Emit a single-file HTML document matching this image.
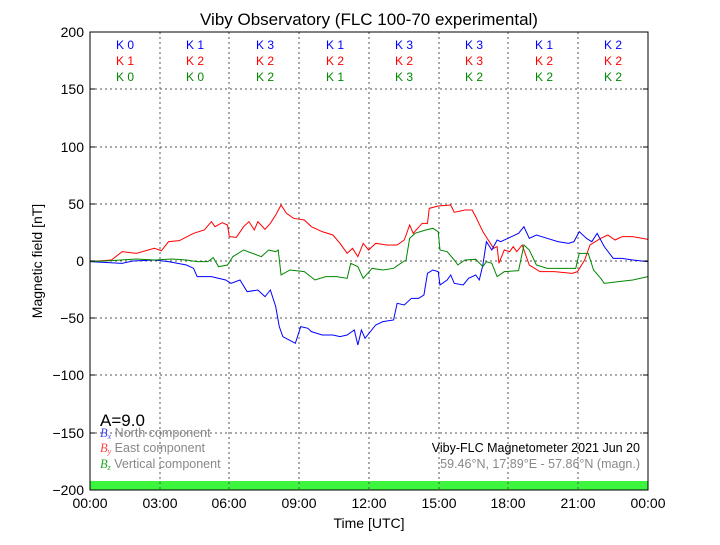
<!DOCTYPE html>
<html><head><meta charset="utf-8"><style>
body{margin:0;background:#fff}
text{font-family:"Liberation Sans",sans-serif}
</style></head><body>
<svg width="720" height="540" xmlns="http://www.w3.org/2000/svg">
<rect width="720" height="540" fill="#fff"/>
<rect x="90" y="481" width="558" height="9" fill="#3ef53e"/>
<g stroke="#555" stroke-width="1" stroke-dasharray="2,3">
<line x1="160" y1="32" x2="160" y2="490"/><line x1="229" y1="32" x2="229" y2="490"/><line x1="299" y1="32" x2="299" y2="490"/><line x1="369" y1="32" x2="369" y2="490"/><line x1="439" y1="32" x2="439" y2="490"/><line x1="508" y1="32" x2="508" y2="490"/><line x1="578" y1="32" x2="578" y2="490"/>
<line x1="90" y1="89" x2="648" y2="89"/><line x1="90" y1="147" x2="648" y2="147"/><line x1="90" y1="204" x2="648" y2="204"/><line x1="90" y1="261" x2="648" y2="261"/><line x1="90" y1="318" x2="648" y2="318"/><line x1="90" y1="375" x2="648" y2="375"/><line x1="90" y1="433" x2="648" y2="433"/>
</g>
<g transform="translate(90,180) scale(0.35714,0.3333)" fill="none">
<polyline vector-effect="non-scaling-stroke" stroke-width="1" stroke="#f00" points="0,245 60,240 90,215 130,220 180,205 200,212 220,185 250,182 290,160 320,150 340,125 350,140 370,128 385,135 390,170 410,172 430,140 445,125 460,150 470,125 490,148 505,130 520,105 535,75 550,100 570,115 600,120 620,140 650,155 680,165 700,190 720,220 735,205 750,230 765,190 780,210 800,190 830,195 860,195 880,180 895,135 905,160 930,130 945,130 950,85 975,78 1010,75 1020,97 1050,90 1070,90 1080,110 1100,155 1130,205 1140,200 1145,250 1160,210 1175,215 1185,200 1195,215 1210,195 1230,255 1260,275 1300,275 1350,280 1365,275 1385,240 1400,195 1430,175 1450,165 1470,180 1490,170 1520,170 1562,178"/>
<polyline vector-effect="non-scaling-stroke" stroke-width="1" stroke="#00f" points="0,245 90,250 120,243 180,240 220,245 270,255 290,265 300,290 340,290 380,300 395,310 420,300 440,335 470,330 490,350 505,330 520,380 530,440 540,470 575,490 590,440 610,445 620,455 650,465 680,465 700,470 720,465 740,450 750,495 760,450 770,475 800,435 820,425 850,420 860,370 880,375 900,355 920,355 935,345 945,280 960,270 975,275 980,315 1000,300 1010,285 1020,310 1045,315 1060,295 1080,285 1090,300 1100,255 1110,185 1125,210 1140,180 1150,185 1170,175 1200,160 1215,140 1230,175 1250,165 1280,175 1310,185 1340,190 1355,185 1370,155 1390,175 1405,185 1420,160 1440,200 1465,235 1490,235 1520,240 1562,245"/>
<polyline vector-effect="non-scaling-stroke" stroke-width="1" stroke="#080" points="0,245 60,242 130,237 180,240 230,237 270,240 300,245 330,245 345,233 360,260 385,255 400,230 430,210 460,222 480,230 500,210 520,215 527,210 535,285 560,270 600,275 630,300 660,290 690,290 720,295 730,250 750,260 765,295 790,265 820,270 850,265 870,250 885,240 895,175 910,160 940,150 960,145 975,155 980,210 1000,215 1020,240 1030,255 1050,240 1080,238 1100,260 1110,245 1125,250 1140,290 1160,275 1200,272 1215,195 1230,210 1250,255 1280,265 1320,265 1360,265 1370,220 1395,220 1410,270 1430,295 1440,310 1480,305 1520,300 1562,290"/>
</g>
<rect x="90" y="32" width="558" height="458" fill="none" stroke="#000" stroke-width="1"/>
<g stroke="#000"><line x1="90" y1="89" x2="95" y2="89"/><line x1="90" y1="147" x2="95" y2="147"/><line x1="90" y1="204" x2="95" y2="204"/><line x1="90" y1="261" x2="95" y2="261"/><line x1="90" y1="318" x2="95" y2="318"/><line x1="90" y1="375" x2="95" y2="375"/><line x1="90" y1="433" x2="95" y2="433"/>
<line x1="648" y1="89" x2="643" y2="89"/><line x1="648" y1="147" x2="643" y2="147"/><line x1="648" y1="204" x2="643" y2="204"/><line x1="648" y1="261" x2="643" y2="261"/><line x1="648" y1="318" x2="643" y2="318"/><line x1="648" y1="375" x2="643" y2="375"/><line x1="648" y1="433" x2="643" y2="433"/></g>
<text x="369" y="25" font-size="17" text-anchor="middle">Viby Observatory (FLC 100-70 experimental)</text>
<g font-size="14" text-anchor="end">
<text x="84" y="37">200</text><text x="84" y="94">150</text><text x="84" y="152">100</text><text x="84" y="209">50</text><text x="84" y="266">0</text><text x="84" y="323">−50</text><text x="84" y="380">−100</text><text x="84" y="438">−150</text><text x="84" y="495">−200</text></g>
<g font-size="14" text-anchor="middle">
<text x="90" y="508">00:00</text><text x="160" y="508">03:00</text><text x="229" y="508">06:00</text><text x="299" y="508">09:00</text><text x="369" y="508">12:00</text><text x="439" y="508">15:00</text><text x="508" y="508">18:00</text><text x="578" y="508">21:00</text><text x="648" y="508">00:00</text>
<text x="369" y="528">Time [UTC]</text></g>
<text transform="translate(42,261) rotate(-90)" font-size="14" text-anchor="middle">Magnetic field [nT]</text>
<g font-size="12" text-anchor="middle">
<g fill="#00f"><text x="125" y="49">K 0</text><text x="195" y="49">K 1</text><text x="265" y="49">K 3</text><text x="335" y="49">K 1</text><text x="404" y="49">K 3</text><text x="474" y="49">K 3</text><text x="544" y="49">K 1</text><text x="613" y="49">K 2</text></g>
<g fill="#f00"><text x="125" y="65">K 1</text><text x="195" y="65">K 2</text><text x="265" y="65">K 2</text><text x="335" y="65">K 2</text><text x="404" y="65">K 2</text><text x="474" y="65">K 3</text><text x="544" y="65">K 2</text><text x="613" y="65">K 2</text></g>
<g fill="#080"><text x="125" y="81">K 0</text><text x="195" y="81">K 0</text><text x="265" y="81">K 2</text><text x="335" y="81">K 1</text><text x="404" y="81">K 3</text><text x="474" y="81">K 2</text><text x="544" y="81">K 2</text><text x="613" y="81">K 2</text></g></g>
<text x="100" y="426" font-size="17">A=9.0</text>
<g font-size="12.5" fill="#888">
<text x="100" y="437"><tspan fill="#44f" font-family="Liberation Serif" font-style="italic">B<tspan font-size="8" dy="2">x</tspan></tspan><tspan dy="-2"> North component</tspan></text>
<text x="100" y="452"><tspan fill="#f44" font-family="Liberation Serif" font-style="italic">B<tspan font-size="8" dy="2">y</tspan></tspan><tspan dy="-2"> East component</tspan></text>
<text x="100" y="468"><tspan fill="#2a2" font-family="Liberation Serif" font-style="italic">B<tspan font-size="8" dy="2">z</tspan></tspan><tspan dy="-2"> Vertical component</tspan></text>
</g>
<text x="640" y="452" font-size="12.5" text-anchor="end">Viby-FLC Magnetometer 2021 Jun 20</text>
<text x="640" y="468" font-size="12.5" text-anchor="end" fill="#888">59.46°N, 17.89°E - 57.86°N (magn.)</text>
</svg>
</body></html>
